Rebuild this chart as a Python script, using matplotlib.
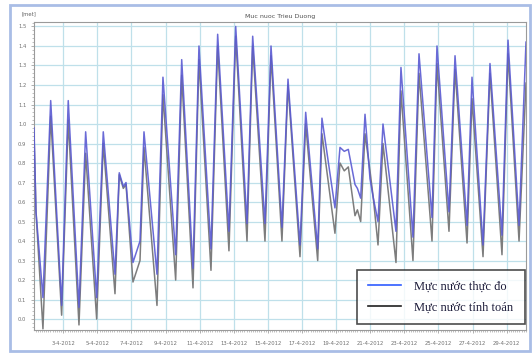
import pandas as pd
import matplotlib
matplotlib.use("Agg")
import matplotlib.pyplot as plt
import matplotlib.dates as mdates
from matplotlib.lines import Line2D
from matplotlib.patches import Rectangle

# --- data (hours after 1-4-2012 00:00, level in m) ---
hours = [6.8, 9.6, 19.4, 30.3, 45.7, 55.0, 70.1, 79.5, 95.0, 104.3,
         120.8, 126.8, 132.5, 136.3, 146.1, 156.0, 161.6, 179.9, 188.3, 206.2,
         214.7, 230.6, 239.0, 255.9, 265.3, 281.2, 290.7, 306.6, 314.6, 331.9,
         340.4, 355.8, 364.3, 381.2, 389.2, 406.1, 412.1, 430.4, 437.5, 443.5,
         449.2, 458.6, 462.0, 466.6, 472.7, 479.7, 484.4, 491.0, 498.0, 516.3,
         523.3, 540.2, 548.7, 567.0, 574.0, 590.9, 599.4, 616.3, 623.3, 638.8,
         648.6, 665.5, 674.0, 689.5, 699.3]

observed = [0.98, 0.55, 0.11, 1.12, 0.07, 1.12, 0.06, 0.96, 0.11, 0.96,
            0.23, 0.75, 0.68, 0.70, 0.29, 0.40, 0.96, 0.23, 1.24, 0.33,
            1.33, 0.26, 1.40, 0.36, 1.46, 0.45, 1.50, 0.49, 1.45, 0.49,
            1.40, 0.47, 1.23, 0.38, 1.06, 0.36, 1.03, 0.57, 0.88, 0.86,
            0.87, 0.69, 0.67, 0.62, 1.05, 0.72, 0.62, 0.50, 1.00, 0.45,
            1.29, 0.42, 1.36, 0.52, 1.40, 0.55, 1.35, 0.48, 1.24, 0.38,
            1.31, 0.43, 1.43, 0.48, 1.42]

computed = [0.95, 0.55, -0.05, 1.04, 0.02, 1.02, -0.03, 0.85, 0.00, 0.90,
            0.13, 0.74, 0.67, 0.69, 0.19, 0.30, 0.88, 0.07, 1.15, 0.20,
            1.25, 0.16, 1.33, 0.25, 1.40, 0.35, 1.45, 0.40, 1.40, 0.40,
            1.35, 0.40, 1.20, 0.32, 1.00, 0.30, 0.95, 0.44, 0.80, 0.76,
            0.78, 0.53, 0.56, 0.50, 0.95, 0.76, 0.62, 0.38, 0.90, 0.29,
            1.17, 0.30, 1.26, 0.40, 1.31, 0.45, 1.28, 0.39, 1.13, 0.32,
            1.26, 0.33, 1.36, 0.40, 1.21]

tick_days = [3, 5, 7, 9, 11, 13, 15, 17, 19, 21, 23, 25, 27, 29]
tick_labels = [f"{d}-4-2012" for d in tick_days]
ytick_vals = [i / 10 for i in range(16)]

title = "Muc nuoc Trieu Duong"
legend_labels = ["Mực nước thực đo", "Mực nước tính toán"]

t0 = pd.Timestamp("2012-04-01")
times = t0 + pd.to_timedelta(hours, unit="h")

W, H = 532, 354
fig = plt.figure(figsize=(W / 100, H / 100), dpi=100)
fig.patch.set_facecolor("white")

# outer light blue frame
fig.patches.append(Rectangle((10 / W, 1 - 351 / H), 520 / W, 346 / H,
                             transform=fig.transFigure, fill=False,
                             edgecolor="#a9bde6", linewidth=2.0))

ax = fig.add_axes([34 / W, 1 - 330 / H, (526 - 34) / W, (330 - 22) / H])

ax.plot(times, computed, color="#7d7d7d", linewidth=1.1, zorder=3)
ax.plot(times, observed, color="#5a5ad2", linewidth=1.1, alpha=0.9, zorder=4)

ax.set_xlim(times[0], times[-1])
ax.set_ylim(-0.056, 1.523)

ax.set_xticks([t0 + pd.Timedelta(days=d - 1) for d in tick_days])
ax.set_xticklabels(tick_labels)
ax.xaxis.set_minor_locator(mdates.HourLocator(byhour=range(0, 24, 3)))
ax.set_yticks(ytick_vals)
ax.set_yticklabels([f"{v:.1f}" for v in ytick_vals])
ax.set_yticks([i / 50 for i in range(-2, 77)], minor=True)

ax.tick_params(which="both", labelsize=3.8, labelcolor="#707070", color="#909090")
ax.tick_params(which="major", length=2, width=0.5)
ax.tick_params(which="minor", length=1.2, width=0.4)
ax.tick_params(axis="x", pad=6)

ax.grid(True, which="major", color="#bfe0ea", linewidth=0.9)
for s in ax.spines.values():
    s.set_color("#9a9a9a")
    s.set_linewidth(0.8)

ax.set_title(title, fontsize=4.5, color="#505050", pad=3)
fig.text(22 / W, 1 - 14 / H, "[met]", fontsize=3.8, color="#606060", va="center")

handles = [Line2D([], [], color="#2f5cff", linewidth=1.2),
           Line2D([], [], color="#202020", linewidth=1.2)]
leg = fig.legend(handles, legend_labels, loc="center",
                 bbox_to_anchor=(357 / W, 1 - 325 / H, (525 - 357) / W, (325 - 269) / H),
                 mode="expand", prop={"family": "Liberation Serif", "size": 9},
                 frameon=True, fancybox=False, handlelength=2.7, handletextpad=1.0,
                 labelspacing=0.7, borderpad=0.85, borderaxespad=0)
leg.get_frame().set_edgecolor("#202020")
leg.get_frame().set_linewidth(1.2)
for txt in leg.get_texts():
    txt.set_color("#1c1c3a")

fig.savefig("out.png", dpi=100)
